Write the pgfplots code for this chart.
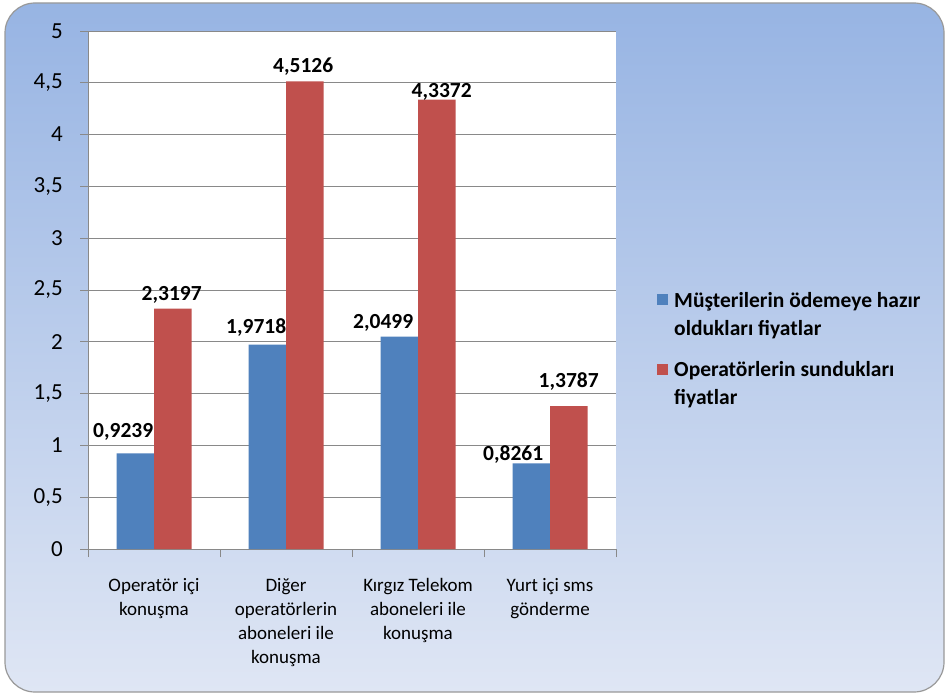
\documentclass[border=0pt]{standalone}
\usepackage{pgfplots}
\pgfplotsset{compat=1.18}
\usepackage{fontspec}
\setmainfont{Carlito}
\definecolor{barblue}{HTML}{4F81BD}
\definecolor{barred}{HTML}{C0504D}
\definecolor{gridgray}{HTML}{898989}
\definecolor{bgtop}{HTML}{97B4E3}
\definecolor{bgbot}{HTML}{DFE6F4}
\pgfplotsset{/pgf/number format/assume math mode=true}

% x = category, y = value, dx/dy = label offset from the bar top centre
\pgfplotstableread{
x y dx dy
0 0.9239 -12 16
1 1.9718 -11 11
2 2.0499 -16 8
3 0.8261 -18 3
}\musteri
\pgfplotstableread{
x y dx dy
0 2.3197 -1 8
1 4.5126 -1.5 9
2 4.3372 5 2
3 1.3787 0 19
}\operator

\begin{document}
\begin{tikzpicture}[x=1pt,y=1pt]
\useasboundingbox (0,0) rectangle (949,697);
\shade[top color=bgtop, bottom color=bgbot, rounded corners=30pt]
  (5,5) rectangle (944,694);
\draw[gray!80, line width=1.2pt, rounded corners=30pt] (5,5) rectangle (944,694);
\begin{axis}[
  at={(88pt,148pt)}, anchor=south west,
  scale only axis, width=528pt, height=518pt,
  axis background/.style={fill=white},
  ybar=0pt, bar width=37.5pt,
  ymin=0, ymax=5,
  ytick={0,0.5,1,1.5,2,2.5,3,3.5,4,4.5,5},
  yticklabels={0,{0,5},1,{1,5},2,{2,5},3,{3,5},4,{4,5},5},
  xmin=-0.5, xmax=3.5,
  xtick={0,1,2,3},
  xticklabels={{Operatör içi\\konuşma},{Diğer\\operatörlerin\\aboneleri ile\\konuşma},{Kırgız Telekom\\aboneleri ile\\konuşma},{Yurt içi sms\\gönderme}},
  minor xtick={-0.5,0.5,1.5,2.5,3.5},
  major x tick style={draw=none},
  tick align=outside,
  major tick length=8pt, minor tick length=8pt,
  tick style={gridgray, line width=0.8pt},
  axis lines*=left,
  axis line style={gridgray, line width=0.8pt},
  ymajorgrids,
  grid style={gridgray, line width=0.8pt},
  /pgf/number format/fixed,
  /pgf/number format/precision=4,
  /pgf/number format/use comma,
  /pgf/number format/1000 sep={},
  yticklabel style={font=\fontsize{23}{27}\selectfont, anchor=east, inner sep=0pt, xshift=-17pt},
  xticklabel style={font=\fontsize{19}{24}\selectfont, align=center, yshift=-18pt},
  nodes near coords,
  nodes near coords style={font=\bfseries\fontsize{21.5}{24}\selectfont, inner sep=0pt},
  legend style={at={(rel axis cs:1.0777,0.5)}, anchor=north west,
    draw=none, fill=none, inner sep=0pt, row sep=21pt,
    font=\bfseries\fontsize{21.5}{28}\selectfont,
    nodes={align=left, inner xsep=6pt}},
  legend cell align=left,
  legend image code/.code={\fill[#1] (0pt,9pt) rectangle (11pt,20pt);},
]
\addplot[fill=barblue, draw=none,
  visualization depends on={\thisrow{dx}\as\dx},
  visualization depends on={\thisrow{dy}\as\dy},
  every node near coord/.append style={anchor=base, xshift=\dx pt, yshift=\dy pt}]
  table[x=x, y=y] {\musteri};
\addlegendentry{Müşterilerin ödemeye hazır\\oldukları fiyatlar}
\addplot[fill=barred, draw=none,
  visualization depends on={\thisrow{dx}\as\dx},
  visualization depends on={\thisrow{dy}\as\dy},
  every node near coord/.append style={anchor=base, xshift=\dx pt, yshift=\dy pt}]
  table[x=x, y=y] {\operator};
\addlegendentry{Operatörlerin sundukları\\fiyatlar}
\end{axis}
\end{tikzpicture}
\end{document}
